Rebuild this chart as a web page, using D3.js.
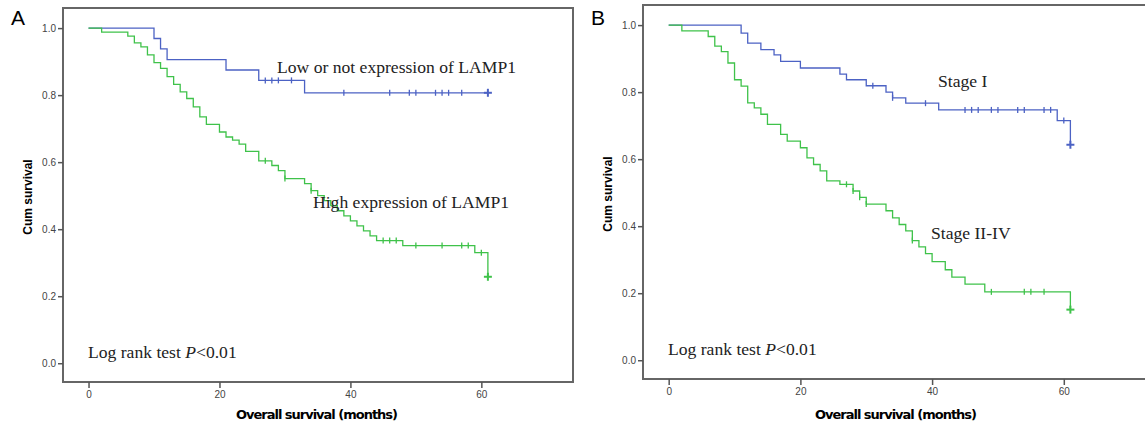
<!DOCTYPE html>
<html>
<head>
<meta charset="utf-8">
<script src="https://cdn.jsdelivr.net/npm/d3@7"></script>
<style>
  body { margin: 0; background: #fff; }
  svg { display: block; }
</style>
</head>
<body>
<script>
// Kaplan-Meier steps: [months, cumulative survival]
const lowA = [[0,1],[10,0.969],[11,0.938],[12,0.906],[21,0.875],[26,0.844],[33,0.807]];
const lowACensor = [27,28,29,31,39,46,49,50,53,54,55,57,61];

const highA = [[0,1],[2,0.988],[6,0.976],[7,0.956],[8,0.944],[9,0.92],[10,0.897],[11,0.88],
  [12,0.855],[13,0.832],[14,0.81],[15,0.79],[16,0.765],[17,0.735],[18,0.713],[20,0.69],
  [21,0.675],[22,0.666],[23,0.654],[24,0.632],[26,0.604],[28,0.59],[29,0.575],[30,0.551],
  [33,0.536],[34,0.515],[35,0.5],[36,0.485],[37,0.47],[38,0.455],[39,0.44],[40,0.425],
  [41,0.41],[42,0.395],[43,0.38],[44,0.366],[48,0.351],[59,0.33],[61,0.258]];
const highACensor = [27,30,34,45,46,47,50,54,57,58,60,61];

const stage1 = [[0,1],[11,0.976],[12,0.946],[14,0.927],[16,0.911],[17,0.892],[20,0.872],
  [26,0.854],[27,0.837],[30,0.819],[33,0.8],[34,0.783],[36,0.767],[41,0.747],[59,0.715],[61,0.643]];
const stage1Censor = [31,34,39,45,46,47,49,50,53,54,57,58,60,61];

const stage2 = [[0,1],[2,0.983],[6,0.966],[7,0.937],[8,0.921],[9,0.887],[10,0.837],[11,0.818],
  [12,0.768],[13,0.753],[14,0.734],[15,0.704],[17,0.674],[18,0.654],[20,0.634],[21,0.604],
  [22,0.584],[23,0.565],[24,0.535],[26,0.525],[28,0.505],[29,0.486],[30,0.466],[33,0.446],
  [34,0.425],[35,0.405],[36,0.386],[37,0.357],[38,0.338],[39,0.318],[40,0.294],[42,0.27],
  [43,0.248],[45,0.227],[48,0.204],[61,0.151]];
const stage2Censor = [27,28,29,30,37,49,54,55,57,61];

const xTicks = [0, 20, 40, 60];
const yTicks = [0, 0.2, 0.4, 0.6, 0.8, 1.0];
const followUp = 61;

const blue = "#4c62c4";
const green = "#3fc24a";

const svg = d3.select("body").append("svg")
    .attr("width", 1145)
    .attr("height", 427);

function drawPanel(p) {
  const x = d3.scaleLinear().domain([-3.9, 74]).range([p.left, p.right]);
  const y = d3.scaleLinear().domain([-0.056, 1.06]).range([p.bottom, p.top]);
  const g = svg.append("g");

  // frame
  g.append("rect")
      .attr("x", p.left).attr("y", p.top)
      .attr("width", p.right - p.left).attr("height", p.bottom - p.top)
      .attr("fill", "none").attr("stroke", "#666").attr("stroke-width", 2);

  const yAxis = g.append("g")
      .attr("transform", `translate(${p.left},0)`)
      .call(d3.axisLeft(y).tickValues(yTicks).tickFormat(d3.format(".1f")).tickSize(5).tickPadding(2));
  const xAxis = g.append("g")
      .attr("transform", `translate(0,${p.bottom})`)
      .call(d3.axisBottom(x).tickValues(xTicks).tickSize(6).tickPadding(3));
  [yAxis, xAxis].forEach(a => {
    a.select(".domain").remove();
    a.selectAll("line").attr("stroke", "#555").attr("stroke-width", 1.5);
    a.selectAll("text").attr("fill", "#444").style("font", "10px 'Liberation Sans', Arial, sans-serif");
  });

  g.append("text")
      .attr("x", p.panelX).attr("y", 25)
      .style("font", "21px 'Liberation Sans', Arial, sans-serif")
      .text(p.panel);

  g.append("text")
      .attr("transform", `translate(${p.left - 31},${(p.top + p.bottom) / 2 + 2}) rotate(-90)`)
      .attr("text-anchor", "middle")
      .style("font", "bold 12px 'Liberation Sans', Arial, sans-serif")
      .text("Cum survival");

  g.append("text")
      .attr("x", p.xLabelX).attr("y", 419)
      .attr("text-anchor", "middle")
      .style("font", "bold 13px 'DejaVu Sans', sans-serif")
      .attr("textLength", 162)
      .text("Overall survival (months)");

  const line = d3.line()
      .x(d => x(d[0]))
      .y(d => y(d[1]))
      .curve(d3.curveStepAfter);

  p.series.forEach(s => {
    const pts = s.steps.slice();
    if (pts[pts.length - 1][0] < followUp) pts.push([followUp, pts[pts.length - 1][1]]);
    g.append("path")
        .attr("d", line(pts))
        .attr("fill", "none")
        .attr("stroke", s.color)
        .attr("stroke-width", 1.3);

    const bis = d3.bisector(d => d[0]).right;
    s.censor.forEach(t => {
      const v = s.steps[bis(s.steps, t) - 1][1];
      const last = t === followUp;
      const cx = x(t), cy = y(v);
      g.append("line")
          .attr("x1", cx).attr("x2", cx)
          .attr("y1", cy - (last ? 4 : 3)).attr("y2", cy + (last ? 4 : 3))
          .attr("stroke", s.color).attr("stroke-width", last ? 2 : 1.3);
      if (last) {
        g.append("line")
            .attr("x1", cx - 4).attr("x2", cx + 4)
            .attr("y1", cy).attr("y2", cy)
            .attr("stroke", s.color).attr("stroke-width", 2);
      }
    });

    g.append("text")
        .attr("x", s.labelX).attr("y", s.labelY)
        .attr("fill", "#222")
        .style("font", "17.6px 'Liberation Serif', 'Times New Roman', serif")
        .text(s.label);
  });

  const lr = g.append("text")
      .attr("x", p.left + 25).attr("y", p.bottom - 24)
      .attr("fill", "#222")
      .style("font", "17.6px 'Liberation Serif', 'Times New Roman', serif");
  lr.append("tspan").text("Log rank test ");
  lr.append("tspan").attr("font-style", "italic").text("P");
  lr.append("tspan").text("<0.01");
}

drawPanel({
  panel: "A", panelX: 11,
  left: 63, right: 573, top: 8, bottom: 382, xLabelX: 317,
  series: [
    {steps: lowA, censor: lowACensor, color: blue, label: "Low or not expression of LAMP1", labelX: 277, labelY: 73},
    {steps: highA, censor: highACensor, color: green, label: "High expression of LAMP1", labelX: 313, labelY: 208}
  ]
});

drawPanel({
  panel: "B", panelX: 591,
  left: 643, right: 1156, top: 5, bottom: 379, xLabelX: 896,
  series: [
    {steps: stage1, censor: stage1Censor, color: blue, label: "Stage I", labelX: 938, labelY: 87},
    {steps: stage2, censor: stage2Censor, color: green, label: "Stage II-IV", labelX: 931, labelY: 239}
  ]
});
</script>
</body>
</html>
